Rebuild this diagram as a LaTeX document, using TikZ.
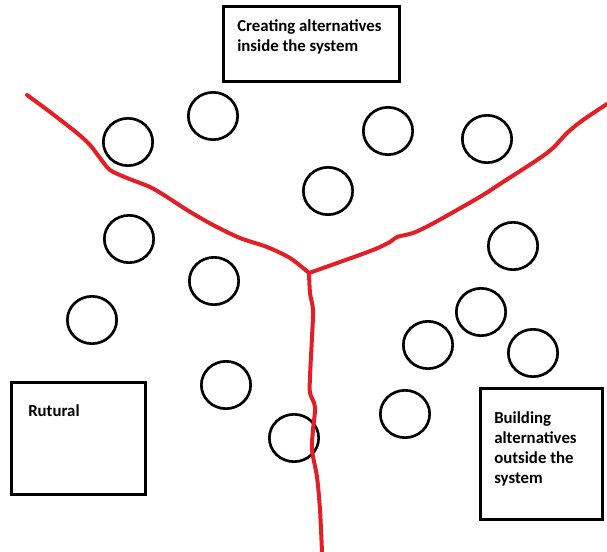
\documentclass[tikz,border=0pt]{standalone}
\usepackage{fontspec}
\setmainfont{Carlito}
\usetikzlibrary{shapes.geometric}
\definecolor{crackred}{RGB}{228,30,36}
\tikzset{
  blob/.style={draw, ellipse, line width=2pt, minimum width=37pt, minimum height=35.5pt, inner sep=0pt},
  framebox/.style={draw, line width=2pt, inner sep=0pt},
  boxtext/.style={anchor=base west, align=left, inner sep=0pt, font=\fontsize{12.6}{15}\selectfont\bfseries},
  crack/.style={crackred, line width=3pt, line cap=round, line join=round}
}
\begin{document}
\begin{tikzpicture}[x=0.75pt, y=-0.75pt]
   \useasboundingbox (0,0) rectangle (607,552);

   % the three boxes (text nodes sit on their last baseline)
   \node[framebox, minimum width=132.4pt, minimum height=56.5pt] (inside) at (311.5,44) {};
   \node[boxtext] (insidetxt) at (237,52) {Creating alternatives\\inside the system};
   \node[framebox, minimum width=100.8pt, minimum height=84.3pt] (rural) at (78.5,438.5) {};
   \node[boxtext] (ruraltxt) at (28,416) {Rutural};
   \node[framebox, minimum width=91.8pt, minimum height=98.5pt] (outside) at (541.5,454) {};
   \node[boxtext] (outsidetxt) at (494,483) {Building\\alternatives\\outside the\\system};

   % the circles
   \node[blob] (c1) at (128,142) {};
   \node[blob] (c2) at (213,116) {};
   \node[blob] (c3) at (388,131) {};
   \node[blob] (c4) at (487,139) {};
   \node[blob] (c5) at (328,191) {};
   \node[blob] (c6) at (129,239) {};
   \node[blob] (c7) at (214,281) {};
   \node[blob] (c8) at (513,246) {};
   \node[blob] (c9) at (92,320) {};
   \node[blob] (c10) at (481,312) {};
   \node[blob] (c11) at (428,345) {};
   \node[blob] (c12) at (533,353) {};
   \node[blob] (c13) at (226,385) {};
   \node[blob] (c14) at (405,414) {};
   \node[blob] (c15) at (294,438) {};

   % the red line
   \coordinate (fork) at (309,273);
   \draw[crack] (fork) plot[smooth, tension=0.5] coordinates {(309,273) (290,258) (267,247) (240,238) (213,225) (187,210) (167,197) (150,187) (127,178) (110,170) (100,158) (90,145) (77,133) (50,112) (27,95)};
   \draw[crack] (fork) plot[smooth, tension=0.5] coordinates {(309,273) (340,262) (373,250) (390,242) (397,237) (413,233) (430,225) (457,210) (483,195) (503,182) (537,160) (553,148) (567,133) (583,120) (607,104)};
   \draw[crack] (fork) plot[smooth, tension=0.5] coordinates {(309,273) (310,293) (313,310) (312,337) (310,377) (310,393) (315,407) (313,430) (312,450) (317,477) (320,510) (322,552)};
\end{tikzpicture}
\end{document}
